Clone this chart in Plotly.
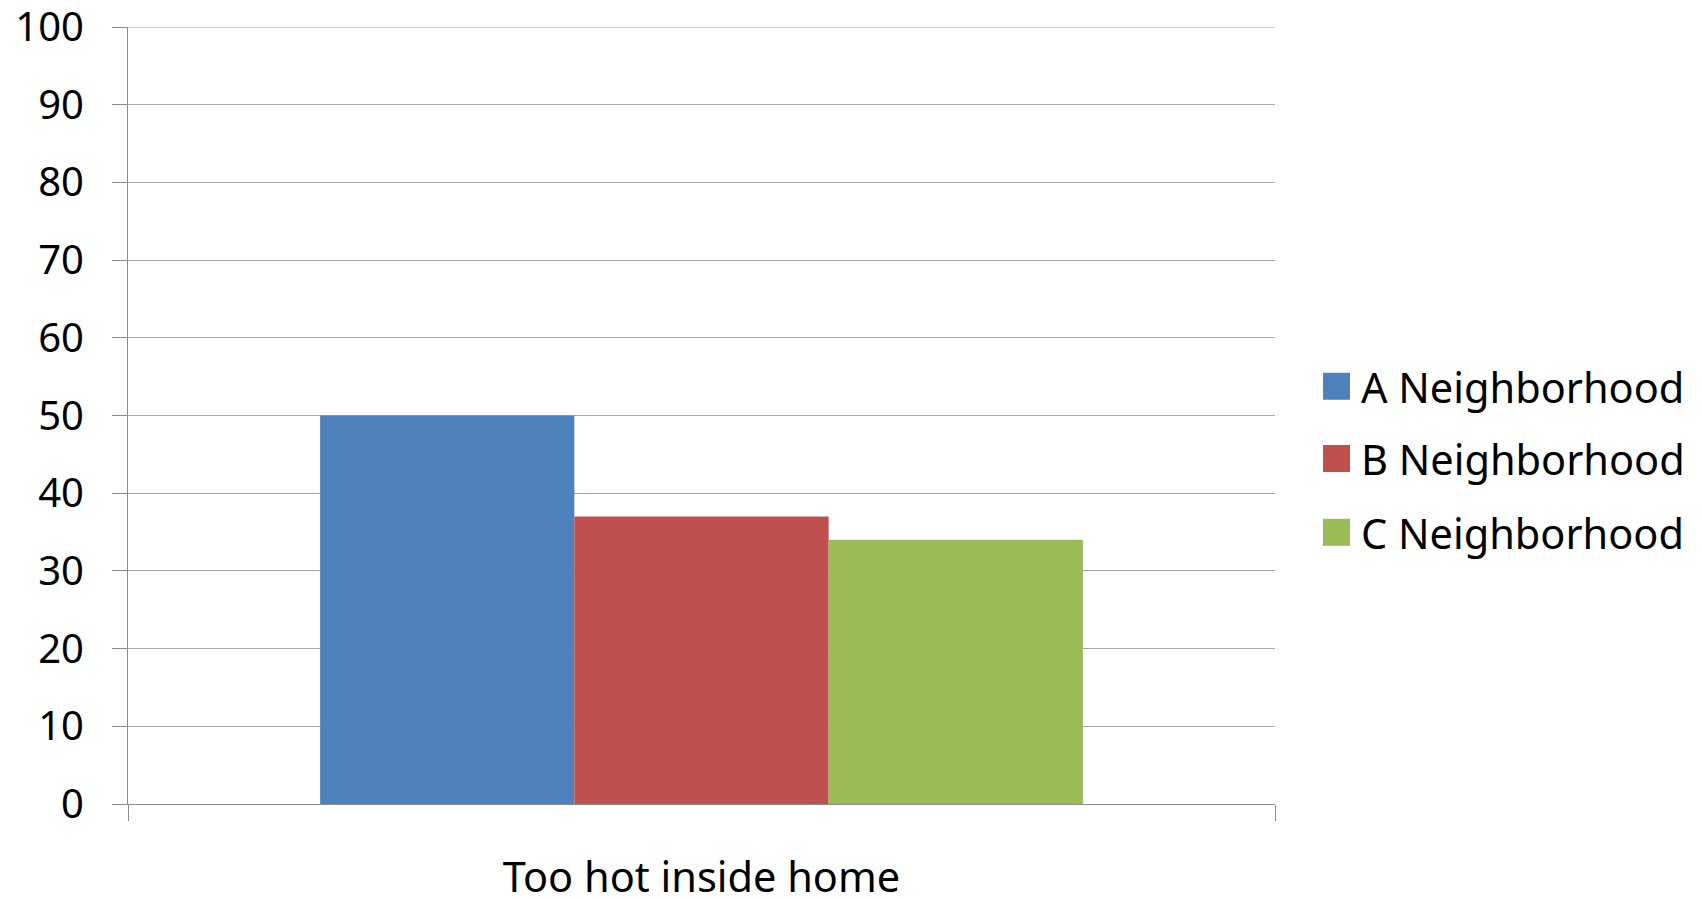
import plotly.graph_objects as go

# Survey results: share of respondents reporting the issue, by neighborhood
categories = ["Too hot inside home"]
series_names = ["A Neighborhood", "B Neighborhood", "C Neighborhood"]
series_values = [[50], [37], [34]]
series_colors = ["#4F81BD", "#C0504D", "#9BBB59"]
y_ticks = [0, 10, 20, 30, 40, 50, 60, 70, 80, 90, 100]
y_max = 100

FONT = "Noto Sans"
AXIS_GRAY = "#8c8c8c"
GRID_GRAY = "#a6a6a6"

fig = go.Figure()
for name, vals, color in zip(series_names, series_values, series_colors):
    fig.add_trace(go.Bar(
        x=categories, y=vals, name=name,
        marker=dict(color=color, line=dict(width=0)),
        showlegend=False,
    ))

# Top gridline sits on the plot edge, where plotly skips its own gridline
shapes = [dict(
    type="line", xref="paper", yref="y", x0=0, x1=1, y0=y_max, y1=y_max,
    line=dict(color=GRID_GRAY, width=1), layer="below",
)]

# Legend drawn as coloured squares with labels beside the plot area
legend_rows_y = [0.537, 0.444, 0.349]
annotations = []
for name, color, yc in zip(series_names, series_colors, legend_rows_y):
    shapes.append(dict(
        type="rect", xref="paper", yref="paper",
        xsizemode="pixel", ysizemode="pixel",
        xanchor=1, yanchor=yc,
        x0=48, x1=75, y0=-13, y1=14,
        fillcolor=color, line=dict(width=0),
    ))
    annotations.append(dict(
        text=name, xref="paper", yref="paper", x=1, y=yc,
        xshift=84, xanchor="left", yanchor="middle", showarrow=False,
        font=dict(family=FONT, size=41.5, color="#000000"),
    ))

fig.update_layout(
    width=1702, height=899,
    margin=dict(l=128, r=427, t=27, b=95, autoexpand=False),
    paper_bgcolor="white", plot_bgcolor="white",
    barmode="group", bargap=0.335, bargroupgap=0,
    font=dict(family=FONT, size=40, color="#000000"),
    shapes=shapes, annotations=annotations,
    showlegend=False,
)
fig.update_xaxes(
    type="category",
    showline=True, linecolor=AXIS_GRAY, linewidth=1,
    ticks="outside", tickson="boundaries", ticklen=16,
    tickcolor=AXIS_GRAY, tickwidth=1,
    showgrid=False, ticklabelstandoff=37, ticklabeloverflow="allow",
    tickfont=dict(family=FONT, size=41.5, color="#000000"),
)
fig.update_yaxes(
    range=[0, y_max], tickvals=y_ticks, ticktext=[str(v) for v in y_ticks],
    showline=True, linecolor=AXIS_GRAY, linewidth=1,
    ticks="outside", ticklen=15, tickcolor=AXIS_GRAY, tickwidth=1,
    showgrid=True, gridcolor=GRID_GRAY, gridwidth=1,
    zeroline=False, ticklabelstandoff=20, ticklabeloverflow="allow",
    tickfont=dict(family=FONT, size=40, color="#000000"),
)

fig.write_html("out.html")
